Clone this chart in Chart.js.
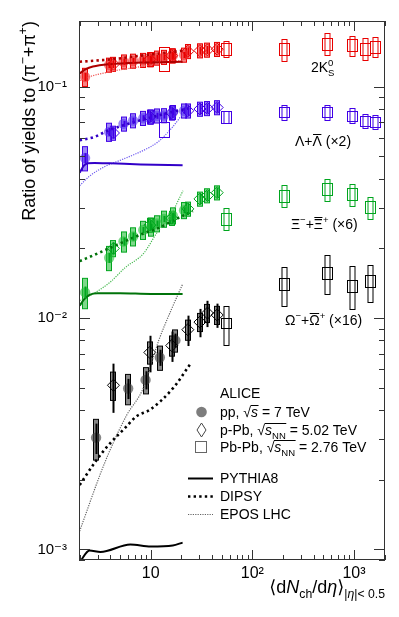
<!DOCTYPE html>
<html><head><meta charset="utf-8">
<script src="https://cdn.jsdelivr.net/npm/chart.js@4.4.0/dist/chart.umd.min.js"></script>
<style>html,body{margin:0;padding:0;background:#fff;}#c{display:block;}</style>
</head><body><canvas id="c" width="399" height="617"></canvas>
<script>
const FONT = "'Liberation Sans', Arial, 'DejaVu Sans', sans-serif";

// ---- axis ticks ----
const X_TICKS = [10, 100, 1000];
const X_LABELS = ['10', '10\u00B2', '10\u00B3'];
const Y_TICKS = [0.001, 0.01, 0.1];
const Y_LABELS = ['10\u207B\u00B3', '10\u207B\u00B2', '10\u207B\u00B9'];

// ---- multiplicity classes <dNch/deta> ----
const ppX = [2.26, 3.90, 5.40, 6.72, 8.45, 10.1, 11.5, 13.5, 16.5, 21.3];
const ppOmegaX = [2.9, 6.0, 8.9, 12.3, 17.5];
const pPbX = [4.3, 9.8, 16.1, 23.2, 30.5, 36.2, 45.1];
const PbPbX_K = [13.4, 55, 205, 537, 966, 1294, 1601];
const PbPbX_X = [55, 205, 537, 966, 1448];

// ---- 2K0S ----
const k_pp = [0.110, 0.124, 0.128, 0.129, 0.130, 0.131, 0.133, 0.134, 0.136, 0.137];
const k_pp_sys = [0.09, 0.07, 0.07, 0.07, 0.07, 0.07, 0.07, 0.07, 0.07, 0.07];
const k_pp_stat = [0.04, 0.03, 0.03, 0.03, 0.03, 0.03, 0.03, 0.03, 0.03, 0.03];
const k_pPb = [0.125, 0.131, 0.136, 0.142, 0.143, 0.144, 0.145];
const k_pPb_sys = [0.07, 0.07, 0.07, 0.07, 0.07, 0.07, 0.07];
const k_pPb_stat = [0.04, 0.04, 0.04, 0.04, 0.04, 0.04, 0.04];
const k_PbPb = [0.132, 0.145, 0.145, 0.153, 0.151, 0.146, 0.149];
const k_PbPb_tall = [0, 0.08, 0.11, 0.11, 0.10, 0.11, 0.10];
const k_PbPb_wide = [0.12, 0.06, 0.06, 0.06, 0.06, 0.06, 0.06];

// ---- Lambda x2 ----
const l_pp = [0.0491, 0.0637, 0.069, 0.0713, 0.073, 0.074, 0.0748, 0.075, 0.0774, 0.0786];
const l_pp_sys = [0.12, 0.09, 0.07, 0.07, 0.07, 0.07, 0.07, 0.07, 0.07, 0.07];
const l_pp_stat = [0.05, 0.04, 0.03, 0.03, 0.03, 0.03, 0.03, 0.03, 0.03, 0.03];
const l_pPb = [0.063, 0.074, 0.077, 0.0786, 0.080, 0.0805, 0.0812];
const l_pPb_sys = [0.07, 0.07, 0.07, 0.07, 0.07, 0.07, 0.07];
const l_pPb_stat = [0.05, 0.05, 0.05, 0.05, 0.05, 0.05, 0.05];
const l_PbPb = [0.0652, 0.0737, 0.0778, 0.0778, 0.0748, 0.0713, 0.0702];
const l_PbPb_tall = [0, 0.06, 0.075, 0.075, 0.075, 0.07, 0.07];
const l_PbPb_wide = [0.075, 0.06, 0.05, 0.05, 0.05, 0.05, 0.05];

// ---- Xi x6 ----
const x_pp = [0.0129, 0.0182, 0.0214, 0.0225, 0.024, 0.0248, 0.0256, 0.0268, 0.0277, 0.0292];
const x_pp_sys = [0.15, 0.12, 0.10, 0.09, 0.09, 0.09, 0.08, 0.08, 0.08, 0.08];
const x_pp_stat = [0.06, 0.05, 0.04, 0.04, 0.03, 0.03, 0.03, 0.03, 0.03, 0.03];
const x_pPb = [0.020, 0.0252, 0.027, 0.0296, 0.0327, 0.0338, 0.0348];
const x_pPb_sys = [0.08, 0.07, 0.07, 0.07, 0.07, 0.07, 0.07];
const x_pPb_stat = [0.06, 0.05, 0.05, 0.05, 0.05, 0.05, 0.05];
const x_PbPb = [0.0268, 0.0337, 0.036, 0.0343, 0.0301];
const x_PbPb_tall = [0.11, 0.11, 0.11, 0.11, 0.11];
const x_PbPb_wide = [0.06, 0.06, 0.06, 0.06, 0.06];

// ---- Omega x16 ----
const o_pp = [0.00304, 0.00496, 0.0054, 0.00675, 0.0080];
const o_pp_sys = [0.20, 0.15, 0.13, 0.12, 0.11];
const o_pp_stat = [0.15, 0.10, 0.09, 0.08, 0.07];
const o_pPb = [0.00512, 0.0071, 0.0076, 0.0089, 0.0096, 0.0105, 0.0103];
const o_pPb_sys = [0.14, 0.11, 0.10, 0.10, 0.09, 0.09, 0.09];
const o_pPb_stat = [0.24, 0.18, 0.15, 0.15, 0.14, 0.13, 0.12];
const o_PbPb = [0.0095, 0.0140, 0.0157, 0.0138, 0.0144];
const o_PbPb_tall = [0.19, 0.19, 0.19, 0.21, 0.18];
const o_PbPb_wide = [0.05, 0.06, 0.06, 0.06, 0.06];

// ---- models ----
const K_PY_x = [2, 2.3, 2.7, 4, 8, 20.6];            const K_PY = [0.114, 0.119, 0.122, 0.125, 0.127, 0.128];
const K_DI_x = [2, 4, 8, 14, 20.6];                  const K_DI = [0.128, 0.131, 0.136, 0.140, 0.143];
const K_EP_x = [2, 2.3, 4, 8, 14, 20.6];             const K_EP = [0.106, 0.109, 0.116, 0.122, 0.127, 0.130];
const L_PY_x = [2, 2.2, 2.4, 2.8, 4, 8, 20.6];       const L_PY = [0.0424, 0.0455, 0.0466, 0.0468, 0.0466, 0.0461, 0.0457];
const L_DI_x = [2, 2.8, 3.8, 6, 10, 15, 25];         const L_DI = [0.0586, 0.0606, 0.0646, 0.069, 0.0735, 0.077, 0.081];
const L_EP_x = [2, 2.5, 3.5, 5, 7, 10, 12, 16, 20.6]; const L_EP = [0.0373, 0.041, 0.045, 0.048, 0.051, 0.055, 0.058, 0.066, 0.076];
const X_PY_x = [2, 2.2, 2.5, 3, 5, 10, 20.6];        const X_PY = [0.0113, 0.0120, 0.0126, 0.0128, 0.0128, 0.0127, 0.0127];
const X_DI_x = [2, 3, 5, 8.5, 12, 17, 26];           const X_DI = [0.0176, 0.0190, 0.0210, 0.0232, 0.0245, 0.0265, 0.0290];
const X_EP_x = [2, 2.7, 4, 5.6, 8.5, 11.7, 15.5, 20.8]; const X_EP = [0.0119, 0.0127, 0.0143, 0.0165, 0.019, 0.0236, 0.0275, 0.0355];
const O_PY_x = [2, 2.5, 3.2, 6.3, 10, 16.5, 20.6];   const O_PY = [0.00088, 0.00099, 0.000975, 0.00105, 0.00103, 0.00104, 0.00107];
const O_DI_x = [2, 2.83, 3.8, 5.6, 7.3, 9.8, 16.5, 24.5]; const O_DI = [0.0019, 0.00238, 0.00281, 0.00335, 0.00377, 0.00401, 0.00496, 0.00632];
const O_EP_x = [2, 3.17, 4, 5.8, 8.5, 12, 16, 20.6];  const O_EP = [0.0012, 0.0021, 0.0027, 0.0038, 0.005, 0.008, 0.0109, 0.014];

function pts(xs, ys, extra) {
  return xs.map((x, i) => { const o = { x, y: ys[i] }; if (extra) for (const k in extra) o[k] = extra[k][i]; return o; });
}

const SPECIES = [
  { col: 'rgb(232,0,0)', dark: 'rgb(175,0,0)', ep: 'rgba(240,80,80,1)', fill: 'rgba(240,50,50,0.6)',
    pp: pts(ppX, k_pp, { sys: k_pp_sys, stat: k_pp_stat }), pPb: pts(pPbX, k_pPb, { sys: k_pPb_sys, stat: k_pPb_stat }),
    PbPb: pts(PbPbX_K, k_PbPb, { tall: k_PbPb_tall, wide: k_PbPb_wide }),
    py: pts(K_PY_x, K_PY), di: pts(K_DI_x, K_DI), epos: pts(K_EP_x, K_EP) },
  { col: 'rgb(64,0,230)', dark: 'rgb(50,0,200)', ep: 'rgba(110,90,240,1)', fill: 'rgba(90,55,240,0.6)',
    pp: pts(ppX, l_pp, { sys: l_pp_sys, stat: l_pp_stat }), pPb: pts(pPbX, l_pPb, { sys: l_pPb_sys, stat: l_pPb_stat }),
    PbPb: pts(PbPbX_K, l_PbPb, { tall: l_PbPb_tall, wide: l_PbPb_wide }),
    py: pts(L_PY_x, L_PY), di: pts(L_DI_x, L_DI), epos: pts(L_EP_x, L_EP) },
  { col: 'rgb(0,165,30)', dark: 'rgb(0,115,10)', ep: 'rgba(70,185,80,1)', fill: 'rgba(40,190,60,0.6)',
    pp: pts(ppX, x_pp, { sys: x_pp_sys, stat: x_pp_stat }), pPb: pts(pPbX, x_pPb, { sys: x_pPb_sys, stat: x_pPb_stat }),
    PbPb: pts(PbPbX_X, x_PbPb, { tall: x_PbPb_tall, wide: x_PbPb_wide }),
    py: pts(X_PY_x, X_PY), di: pts(X_DI_x, X_DI), epos: pts(X_EP_x, X_EP) },
  { col: 'rgb(0,0,0)', dark: 'rgb(0,0,0)', ep: 'rgba(100,100,100,1)', fill: 'rgba(70,70,70,0.65)',
    pp: pts(ppOmegaX, o_pp, { sys: o_pp_sys, stat: o_pp_stat }), pPb: pts(pPbX, o_pPb, { sys: o_pPb_sys, stat: o_pPb_stat }),
    PbPb: pts(PbPbX_X, o_PbPb, { tall: o_PbPb_tall, wide: o_PbPb_wide }),
    py: pts(O_PY_x, O_PY), di: pts(O_DI_x, O_DI), epos: pts(O_EP_x, O_EP) }
];

const datasets = [];
SPECIES.forEach(s => {
  datasets.push({ data: s.py, showLine: true, pointRadius: 0, borderColor: s.dark, borderWidth: 2, cubicInterpolationMode: 'monotone', fill: false });
  datasets.push({ data: s.di, showLine: true, pointRadius: 0, borderColor: s.dark, borderWidth: 2.6, borderDash: [2.4, 3.2], cubicInterpolationMode: 'monotone', fill: false });
  datasets.push({ data: s.epos, showLine: true, pointRadius: 0, borderColor: s.ep, borderWidth: 1.2, borderDash: [1.2, 1.2], cubicInterpolationMode: 'monotone', fill: false });
});
SPECIES.forEach(s => {
  datasets.push({ kind: 'pPb', col: s.col, fillc: s.fill, data: s.pPb, showLine: false, pointStyle: 'rectRot', pointRadius: 6,
    backgroundColor: 'rgba(255,255,255,0)', borderColor: s.col, borderWidth: 1 });
  datasets.push({ kind: 'pp', col: s.col, fillc: s.fill, data: s.pp, showLine: false, pointStyle: 'circle', pointRadius: 5.2,
    backgroundColor: s.fill, borderWidth: 0 });
  datasets.push({ kind: 'PbPb', col: s.col, data: s.PbPb, showLine: false, pointRadius: 0 });
});

function clipArea(ctx, a) { ctx.beginPath(); ctx.rect(a.left, a.top, a.right - a.left, a.bottom - a.top); ctx.clip(); }

const errPlugin = {
  id: 'errs',
  beforeDatasetsDraw(chart) {
    const { ctx, scales: { x, y }, chartArea: a } = chart;
    ctx.save(); clipArea(ctx, a);
    chart.data.datasets.forEach(ds => {
      if (ds.kind !== 'pp' && ds.kind !== 'pPb') return;
      ds.data.forEach(d => {
        const px = Math.round(x.getPixelForValue(d.x));
        const t = y.getPixelForValue(d.y * (1 + d.sys)), b = y.getPixelForValue(d.y * (1 - d.sys));
        ctx.fillStyle = ds.fillc; ctx.strokeStyle = ds.col; ctx.lineWidth = 1;
        ctx.fillRect(px - 2.5, t, 5, b - t);
        ctx.strokeRect(px - 2.5, t, 5, b - t);
      });
    });
    ctx.restore();
  },
  afterDatasetsDraw(chart) {
    const { ctx, scales: { x, y }, chartArea: a } = chart;
    ctx.save(); clipArea(ctx, a);
    chart.data.datasets.forEach(ds => {
      if (ds.kind === 'pp' || ds.kind === 'pPb') {
        ds.data.forEach(d => {
          const px = Math.round(x.getPixelForValue(d.x)) + 0.5;
          const t = y.getPixelForValue(d.y * (1 + d.stat)), b = y.getPixelForValue(d.y * (1 - d.stat));
          ctx.strokeStyle = ds.col; ctx.lineWidth = 2;
          ctx.beginPath(); ctx.moveTo(px, t); ctx.lineTo(px, b); ctx.stroke();
        });
      } else if (ds.kind === 'PbPb') {
        ds.data.forEach(d => {
          const px = Math.round(x.getPixelForValue(d.x)) + 0.5;
          ctx.strokeStyle = ds.col; ctx.lineWidth = 1;
          const wt = y.getPixelForValue(d.y * (1 + d.wide)), wb = y.getPixelForValue(d.y * (1 - d.wide));
          ctx.strokeRect(px - 5, Math.round(wt) + 0.5, 10, Math.round(wb - wt));
          if (d.tall > 0) {
            const tt = y.getPixelForValue(d.y * (1 + d.tall)), tb = y.getPixelForValue(d.y * (1 - d.tall));
            ctx.strokeRect(px - 2.5, Math.round(tt) + 0.5, 5, Math.round(tb - tt));
          }
        });
      }
    });
    ctx.restore();
  }
};

function rich(ctx, segs, x, y, size, align, color) {
  const m = []; let w = 0;
  for (const s of segs) {
    const fs = (s.sup || s.sub) ? size * 0.68 : size;
    const font = (s.it ? 'italic ' : '') + fs.toFixed(2) + 'px ' + FONT;
    ctx.font = font; const sw = ctx.measureText(s.t).width;
    m.push({ font, sw, fs });
    if (!s.keep) w += sw;
  }
  let cx = align === 'right' ? x - w : align === 'center' ? x - w / 2 : x;
  ctx.fillStyle = color || '#000'; ctx.strokeStyle = color || '#000';
  ctx.textBaseline = 'alphabetic'; ctx.textAlign = 'left';
  segs.forEach((s, i) => {
    const dy = s.sup ? -size * 0.42 : s.sub ? size * 0.28 : 0;
    ctx.font = m[i].font;
    ctx.fillText(s.t, cx, y + dy);
    ctx.lineWidth = 1;
    if (s.over) {
      const oy = Math.round(y + dy - m[i].fs * 0.88) + 0.5;
      ctx.beginPath(); ctx.moveTo(cx + 0.5, oy); ctx.lineTo(cx + m[i].sw - 0.5, oy); ctx.stroke();
    }
    if (s.root) {
      const oy = Math.round(y - size * 0.86) + 0.5;
      ctx.beginPath(); ctx.moveTo(cx - 0.5, oy); ctx.lineTo(cx + m[i].sw + 0.5, oy); ctx.stroke();
    }
    if (!s.keep) cx += m[i].sw;
  });
  return w;
}

const decoPlugin = {
  id: 'deco',
  afterDraw(chart) {
    const { ctx, chartArea: a, scales: { x, y } } = chart;
    ctx.save();
    // frame + inward ticks
    ctx.strokeStyle = '#333'; ctx.lineWidth = 1;
    ctx.strokeRect(a.left + 0.5, a.top + 0.5, a.right - a.left - 1, a.bottom - a.top - 1);
    ctx.beginPath();
    for (let d = 0; d <= 4; d++) for (let mm = 1; mm <= 9; mm++) {
      const v = mm * Math.pow(10, d);
      if (v < x.min || v > x.max) continue;
      const px = Math.round(x.getPixelForValue(v)) + 0.5, len = mm === 1 ? 10 : 5;
      ctx.moveTo(px, a.bottom); ctx.lineTo(px, a.bottom - len);
      ctx.moveTo(px, a.top); ctx.lineTo(px, a.top + len);
    }
    for (let d = -4; d <= 0; d++) for (let mm = 1; mm <= 9; mm++) {
      const v = mm * Math.pow(10, d);
      if (v < y.min || v > y.max) continue;
      const py = Math.round(y.getPixelForValue(v)) + 0.5, len = mm === 1 ? 11 : 6;
      ctx.moveTo(a.left, py); ctx.lineTo(a.left + len, py);
      ctx.moveTo(a.right, py); ctx.lineTo(a.right - len, py);
    }
    ctx.stroke();

    // species labels
    rich(ctx, [{ t: '2K' }, { t: '0', sup: true, keep: true }, { t: 'S', sub: true }], 311, 72, 14, 'left');
    rich(ctx, [{ t: '\u039B+' }, { t: '\u039B', over: true }, { t: ' (\u00D72)' }], 295, 146, 14, 'left');
    rich(ctx, [{ t: '\u039E' }, { t: '\u2212', sup: true }, { t: '+' }, { t: '\u039E', over: true }, { t: '+', sup: true }, { t: ' (\u00D76)' }], 291, 229, 14, 'left');
    rich(ctx, [{ t: '\u03A9' }, { t: '\u2212', sup: true }, { t: '+' }, { t: '\u03A9', over: true }, { t: '+', sup: true }, { t: ' (\u00D716)' }], 285, 325, 14, 'left');

    // legend
    const LX = 220;
    rich(ctx, [{ t: 'ALICE' }], LX, 398, 14, 'left');
    rich(ctx, [{ t: 'pp, ' }, { t: '\u221A' }, { t: 's', it: true, root: true }, { t: ' = 7 TeV' }], LX, 417, 14, 'left');
    rich(ctx, [{ t: 'p-Pb, ' }, { t: '\u221A' }, { t: 's', it: true, root: true }, { t: 'NN', sub: true, root: true }, { t: ' = 5.02 TeV' }], LX, 435, 14, 'left');
    rich(ctx, [{ t: 'Pb-Pb, ' }, { t: '\u221A' }, { t: 's', it: true, root: true }, { t: 'NN', sub: true, root: true }, { t: ' = 2.76 TeV' }], LX, 452, 14, 'left');
    rich(ctx, [{ t: 'PYTHIA8' }], LX, 483, 14, 'left');
    rich(ctx, [{ t: 'DIPSY' }], LX, 501, 14, 'left');
    rich(ctx, [{ t: 'EPOS LHC' }], LX, 519, 14, 'left');
    // legend markers
    ctx.fillStyle = 'rgb(125,125,125)';
    ctx.beginPath(); ctx.arc(201.5, 412, 5.3, 0, Math.PI * 2); ctx.fill();
    ctx.strokeStyle = '#444'; ctx.lineWidth = 1;
    ctx.beginPath(); ctx.moveTo(201.5, 423); ctx.lineTo(206, 430); ctx.lineTo(201.5, 437); ctx.lineTo(197, 430); ctx.closePath(); ctx.stroke();
    ctx.strokeStyle = '#666';
    ctx.strokeRect(195.5, 441.5, 11, 11);
    ctx.strokeStyle = '#000';
    ctx.lineWidth = 2; ctx.beginPath(); ctx.moveTo(188, 478.5); ctx.lineTo(213, 478.5); ctx.stroke();
    ctx.lineWidth = 2.6; ctx.setLineDash([2.4, 3.2]); ctx.beginPath(); ctx.moveTo(188, 496.5); ctx.lineTo(213, 496.5); ctx.stroke();
    ctx.strokeStyle = 'rgb(100,100,100)'; ctx.lineWidth = 1.2; ctx.setLineDash([1.2, 1.2]); ctx.beginPath(); ctx.moveTo(188, 514.5); ctx.lineTo(213, 514.5); ctx.stroke();
    ctx.setLineDash([]);

    // x title
    rich(ctx, [{ t: '\u27E8d' }, { t: 'N', it: true }, { t: 'ch', sub: true }, { t: '/d' }, { t: '\u03B7', it: true }, { t: '\u27E9' },
      { t: '|', sub: true }, { t: '\u03B7', sub: true, it: true }, { t: '|< 0.5', sub: true }], a.right, 593, 18, 'right');
    // y title
    ctx.save(); ctx.translate(35, a.top); ctx.rotate(-Math.PI / 2);
    rich(ctx, [{ t: 'Ratio of yields to (\u03C0' }, { t: '\u2212', sup: true }, { t: '+\u03C0' }, { t: '+', sup: true }, { t: ')' }], 0, 0, 18, 'right');
    ctx.restore();
    ctx.restore();
  }
};

new Chart(document.getElementById('c'), {
  type: 'scatter',
  data: { datasets },
  options: {
    responsive: false, animation: false, devicePixelRatio: 1,
    layout: { padding: { left: 0, right: 14, top: 10, bottom: 0 } },
    plugins: { legend: { display: false }, tooltip: { enabled: false } },
    scales: {
      x: {
        type: 'logarithmic', min: 1.97, max: 2020,
        grid: { display: false, drawTicks: false }, border: { display: false },
        afterBuildTicks: s => { s.ticks = X_TICKS.map(v => ({ value: v })); },
        afterFit: s => { s.height = 57; },
        ticks: { autoSkip: false, maxRotation: 0, padding: 4, color: '#000', font: { family: FONT, size: 16 },
          callback: (v, i) => X_LABELS[i] }
      },
      y: {
        type: 'logarithmic', min: 0.0009, max: 0.192,
        grid: { display: false, drawTicks: false }, border: { display: false },
        afterBuildTicks: s => { s.ticks = Y_TICKS.map(v => ({ value: v })); },
        afterFit: s => { s.width = 79; },
        ticks: { autoSkip: false, padding: 12, color: '#000', font: { family: FONT, size: 15 },
          callback: (v, i) => Y_LABELS[i] }
      }
    }
  },
  plugins: [errPlugin, decoPlugin]
});
</script>
</body></html>
